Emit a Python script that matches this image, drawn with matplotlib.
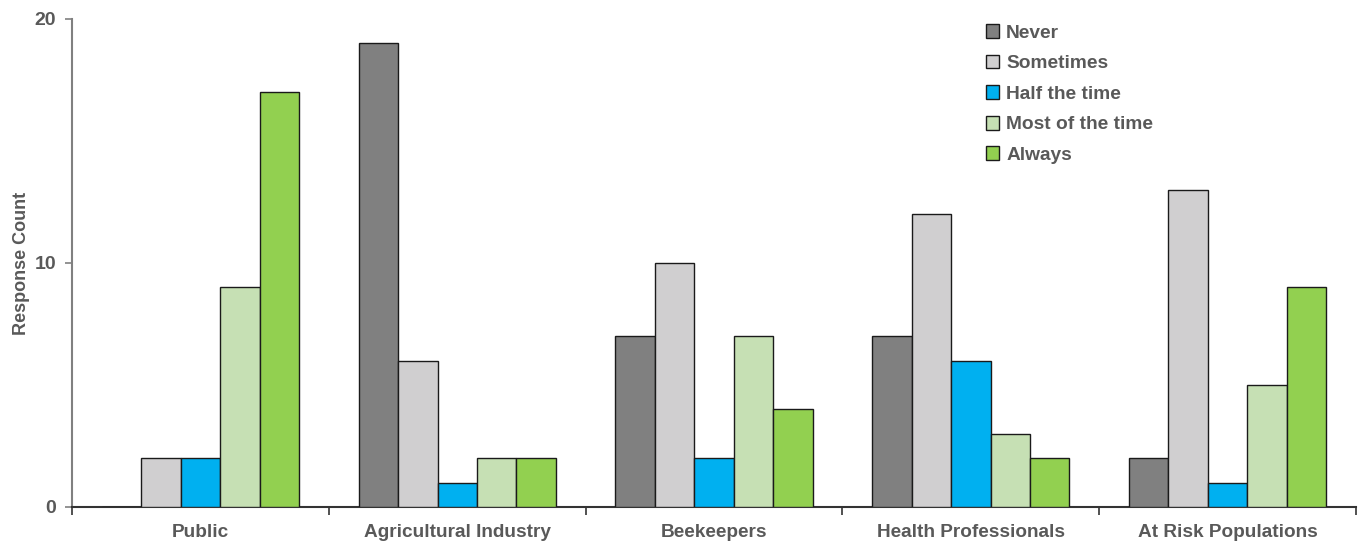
import matplotlib
matplotlib.use("Agg")
import matplotlib.pyplot as plt
import numpy as np

categories = ["Public", "Agricultural Industry", "Beekeepers", "Health Professionals", "At Risk Populations"]
series_names = ["Never", "Sometimes", "Half the time", "Most of the time", "Always"]
never = [0, 19, 7, 7, 2]
sometimes = [2, 6, 10, 12, 13]
half_the_time = [2, 1, 2, 6, 1]
most_of_the_time = [9, 2, 7, 3, 5]
always = [17, 2, 4, 2, 9]
y_ticks = [0, 10, 20]

colors = ["#808080", "#d0cfd0", "#00b0f0", "#c6e0b4", "#92d050"]
text_color = "#595959"

plt.rcParams["font.family"] = ["Liberation Sans", "DejaVu Sans"]
plt.rcParams["font.weight"] = "bold"

fig = plt.figure(figsize=(13.62, 5.42), dpi=100)
ax = fig.add_axes([0.0529, 0.0646, 0.9427, 0.9004])

values = [never, sometimes, half_the_time, most_of_the_time, always]
x = np.arange(len(categories))
bw = 0.1537
for i, (name, vals, c) in enumerate(zip(series_names, values, colors)):
    ax.bar(x + (i - 2) * bw, vals, width=bw, color=c, edgecolor="#1a1a1a",
           linewidth=1.0, label=name, zorder=3)

ax.set_xlim(-0.5, len(categories) - 0.5)
ax.set_ylim(0, 20)
ax.set_yticks(y_ticks)
ax.set_yticklabels([str(v) for v in y_ticks], fontsize=14, fontweight="bold", color=text_color)
ax.set_xticks(x)
ax.set_xticklabels(categories, fontsize=13.7, fontweight="bold", color=text_color)
ax.tick_params(axis="x", which="major", length=0, pad=12)
ax.set_xticks(np.arange(len(categories) + 1) - 0.5, minor=True)
ax.tick_params(axis="x", which="minor", length=6, width=1.2, color="#333333", direction="out")
ax.tick_params(axis="y", length=5, width=1.2, color="#808080", direction="out", pad=6.5)

for s in ["top", "right"]:
    ax.spines[s].set_visible(False)
ax.spines["left"].set_color("#808080")
ax.spines["left"].set_linewidth(1.5)
ax.spines["bottom"].set_color("#333333")
ax.spines["bottom"].set_linewidth(1.5)

ax.set_ylabel("Response Count", fontsize=13, fontweight="bold", color=text_color)
ax.yaxis.set_label_coords(-0.0325, 0.5)

leg = ax.legend(loc="upper left", bbox_to_anchor=(0.7055, 1.005), frameon=False,
                fontsize=13.8, handlelength=0.72, handleheight=0.72, handletextpad=0.35,
                labelspacing=0.68, borderaxespad=0)
for t in leg.get_texts():
    t.set_color(text_color)
    t.set_fontweight("bold")

fig.savefig("out.png", dpi=100)
